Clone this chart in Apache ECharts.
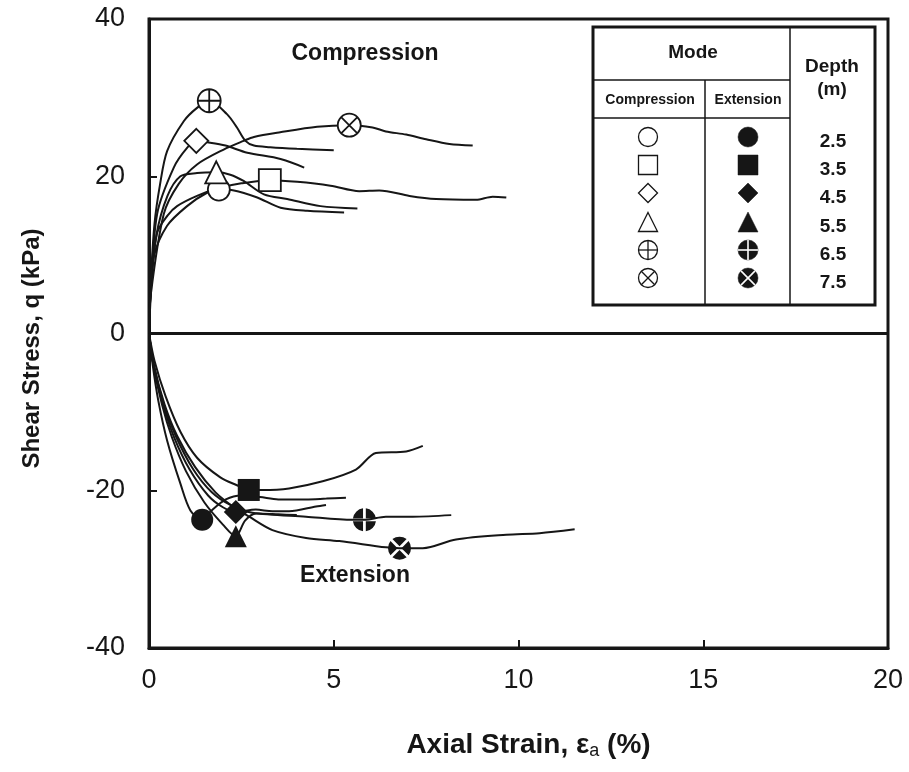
<!DOCTYPE html>
<html>
<head>
<meta charset="utf-8">
<title>Shear stress vs axial strain</title>
<script src="https://cdn.jsdelivr.net/npm/echarts@6/dist/echarts.min.js"></script>
<style>
  html, body { margin: 0; padding: 0; background: #fff; }
  #chart { width: 909px; height: 772px; }
</style>
</head>
<body>
<div id="chart"></div>
<script>
// depths (m) of the six tests, same order in every list below
var depths = ['2.5', '3.5', '4.5', '5.5', '6.5', '7.5']

// compression curves [axial strain %, q kPa]
var comp25 = [[0, 0], [0.05, 5], [0.13, 9.8], [0.49, 13.7], [1.03, 16.2], [1.57, 17.9], [1.89, 18.3], [2.3, 18.2], [2.93, 17.3], [3.56, 16.0], [4.28, 15.6], [5.28, 15.4]]
var comp35 = [[0, 0], [0.05, 6], [0.22, 12.8], [0.5, 15], [0.76, 16.2], [1.3, 17.5], [1.9, 18.5], [2.5, 19.1], [3.27, 19.5], [4.01, 19.3], [4.91, 18.8], [5.69, 18.1], [6.23, 18.2], [7.05, 17.5], [7.77, 17.1], [8.85, 17.0], [9.3, 17.4], [9.67, 17.3]]
var comp45 = [[0, 0], [0.04, 5], [0.22, 15.2], [0.67, 21.1], [1.03, 23.6], [1.28, 24.5], [1.62, 24.3], [2.07, 23.9], [2.66, 23.0], [3.56, 22.2], [4.2, 21.1]]
var comp55 = [[0, 0], [0.04, 5], [0.2, 12.5], [0.5, 17.5], [0.85, 20.0], [1.3, 20.4], [1.82, 20.5], [2.2, 20.2], [2.56, 19.4], [3.11, 17.7], [3.74, 17.1], [4.64, 16.2], [5.64, 15.9]]
var comp65 = [[0, 0], [0.04, 6], [0.15, 14], [0.3, 19], [0.49, 23.2], [0.94, 27], [1.3, 28.7], [1.63, 29.6], [2.11, 27.9], [2.38, 26.2], [2.61, 24.5], [2.84, 23.9], [3.28, 23.7], [4.0, 23.5], [5.0, 23.3]]
var comp75 = [[0, 0], [0.05, 5], [0.4, 15.2], [0.8, 19], [1.3, 21.5], [2.02, 23.4], [2.56, 24.5], [2.84, 25.0], [3.55, 25.6], [4.55, 26.3], [5.42, 26.5], [6.05, 26.2], [6.41, 25.7], [6.96, 25.3], [7.5, 24.7], [8.13, 24.1], [8.76, 23.9]]

// extension curves
var ext25 = [[0, 0], [0.1, -4], [0.25, -8.5], [0.49, -13.6], [0.85, -19.1], [1.12, -22.5], [1.44, -23.7], [1.67, -22.6], [2.08, -21.1], [2.5, -20.6], [3.0, -20.8], [3.5, -21.1], [4.25, -21.1], [4.8, -21.0], [5.33, -20.9]]
var ext35 = [[0, 0], [0.15, -3.5], [0.45, -8], [0.85, -12.5], [1.3, -15.8], [1.93, -18.3], [2.38, -19.3], [2.7, -19.9], [3.07, -19.9], [3.79, -19.7], [4.7, -18.8], [5.6, -17.3], [6.14, -15.2], [6.96, -15.0], [7.41, -14.3]]
var ext45 = [[0, 0], [0.12, -4], [0.38, -9], [0.68, -13.2], [1.1, -17.3], [1.6, -20.6], [2.0, -22.1], [2.35, -22.7], [2.89, -22.4], [3.34, -22.6], [3.79, -22.6], [4.52, -22.0], [4.79, -21.8]]
var ext55 = [[0, 0], [0.12, -4], [0.35, -9], [0.62, -13.2], [1.0, -17.5], [1.5, -21.5], [2.0, -24.3], [2.35, -25.8], [2.6, -23.8], [2.9, -22.9], [3.5, -23.0], [4.0, -23.1]]
var ext65 = [[0, 0], [0.13, -4], [0.4, -9], [0.72, -13], [1.2, -17.3], [1.7, -20.2], [2.2, -21.8], [2.8, -22.8], [4.25, -23.3], [5.51, -23.7], [5.83, -23.7], [6.41, -23.3], [7.14, -23.3], [8.18, -23.1]]
var ext75 = [[0, 0], [0.13, -4], [0.42, -9], [0.76, -13], [1.25, -17], [1.8, -20.2], [2.3, -22.1], [2.71, -23.3], [3.34, -25], [4.25, -26], [5.15, -26.4], [6.41, -27.2], [6.78, -27.3], [7.41, -27.3], [8.31, -26.2], [9.67, -25.6], [10.57, -25.4], [11.52, -24.9]]

// peak (failure) points that carry the markers
var compPeaks = [[1.89, 18.3], [3.27, 19.5], [1.28, 24.5], [1.82, 20.5], [1.63, 29.6], [5.42, 26.5]]
var extPeaks = [[1.44, -23.7], [2.7, -19.9], [2.35, -22.7], [2.35, -25.8], [5.83, -23.7], [6.78, -27.3]]

var compCurves = [comp25, comp35, comp45, comp55, comp65, comp75]
var extCurves = [ext25, ext35, ext45, ext55, ext65, ext75]

// marker shapes, drawn in a 20x20 box
var CIRCLE = 'M0,10A10,10 0 1,1 20,10A10,10 0 1,1 0,10Z'
var openSyms = [
  CIRCLE,
  'M0,0H20V20H0Z',
  'M10,0L20,10L10,20L0,10Z',
  'M10,0L20,20L0,20Z',
  CIRCLE + 'M10,0L10,20M0,10L20,10',
  CIRCLE + 'M2.93,2.93L17.07,17.07M17.07,2.93L2.93,17.07'
]
var solidSyms = [
  CIRCLE,
  'M0,0H20V20H0Z',
  'M10,0L20,10L10,20L0,10Z',
  'M10,0L20,20L0,20Z',
  // disc with a white plus cut out
  'M11.2,8.8L11.2,0.072A10,10 0 0,1 19.928,8.8Z' +
  'M11.2,11.2L19.928,11.2A10,10 0 0,1 11.2,19.928Z' +
  'M8.8,11.2L8.8,19.928A10,10 0 0,1 0.072,11.2Z' +
  'M8.8,8.8L0.072,8.8A10,10 0 0,1 8.8,0.072Z',
  // disc with a white cross cut out
  'M10,8.303L3.828,2.131A10,10 0 0,1 16.172,2.131Z' +
  'M11.697,10L17.869,3.828A10,10 0 0,1 17.869,16.172Z' +
  'M10,11.697L16.172,17.869A10,10 0 0,1 3.828,17.869Z' +
  'M8.303,10L2.131,16.172A10,10 0 0,1 2.131,3.828Z'
]
var symSizes = [22, 22, 24, 22, 23, 23]

var INK = '#161616'
var FONT = '"Liberation Sans", Arial, Helvetica, sans-serif'

var chart = echarts.init(document.getElementById('chart'))

var series = []
function curve(d) {
  return {
    type: 'line',
    data: d,
    showSymbol: false,
    smooth: 0.3,
    lineStyle: { color: INK, width: 2 },
    z: 2,
    silent: true
  }
}
compCurves.forEach(function(d) { series.push(curve(d)) })
extCurves.forEach(function(d) { series.push(curve(d)) })
// zero line across the plot
series[0].markLine = {
  silent: true,
  symbol: 'none',
  label: { show: false },
  lineStyle: { color: INK, width: 3, type: 'solid' },
  data: [{ yAxis: 0 }]
}
compPeaks.forEach(function(p, i) {
  series.push({
    type: 'scatter',
    data: [p],
    symbol: 'path://' + openSyms[i],
    symbolSize: symSizes[i],
    itemStyle: { color: '#fff', borderColor: INK, borderWidth: 1.8, opacity: 1 },
    z: 5,
    silent: true
  })
})
extPeaks.forEach(function(p, i) {
  series.push({
    type: 'scatter',
    data: [p],
    symbol: 'path://' + solidSyms[i],
    symbolSize: symSizes[i],
    itemStyle: { color: INK, borderWidth: 0, opacity: 1 },
    z: 5,
    silent: true
  })
})

// legend table in the upper right
var box = { x: 593, y: 27, w: 282, h: 278 }
var colMode = 790
var colSplit = 705
var rowHead = 80
var rowSub = 118
var rowYs = [137, 165, 193, 222, 250, 278]

function textEl(x, y, text, font) {
  return { type: 'text', x: x, y: y, z: 11, style: { text: text, font: font, fill: INK, align: 'center', verticalAlign: 'middle' } }
}
function lineEl(x1, y1, x2, y2, w, color) {
  return { type: 'line', z: 12, shape: { x1: x1, y1: y1, x2: x2, y2: y2 }, style: { stroke: color || INK, lineWidth: w } }
}
// legend glyph built from plain graphic primitives
function glyph(kind, cx, cy, s, solid) {
  var r = s / 2
  var st = solid ? { fill: INK, stroke: INK, lineWidth: 0.5 } : { fill: '#fff', stroke: INK, lineWidth: 1.3 }
  var out = []
  if (kind === 0 || kind >= 4) {
    out.push({ type: 'circle', z: 11, shape: { cx: cx, cy: cy, r: r }, style: st })
  } else if (kind === 1) {
    out.push({ type: 'rect', z: 11, shape: { x: cx - r, y: cy - r, width: s, height: s }, style: st })
  } else if (kind === 2) {
    out.push({ type: 'polygon', z: 11, shape: { points: [[cx, cy - r], [cx + r, cy], [cx, cy + r], [cx - r, cy]] }, style: st })
  } else {
    out.push({ type: 'polygon', z: 11, shape: { points: [[cx, cy - r], [cx + r, cy + r], [cx - r, cy + r]] }, style: st })
  }
  var lc = solid ? '#fff' : INK
  var lw = solid ? 1.6 : 1.3
  if (kind === 4) {
    out.push(lineEl(cx, cy - r, cx, cy + r, lw, lc))
    out.push(lineEl(cx - r, cy, cx + r, cy, lw, lc))
  } else if (kind === 5) {
    var k = r * 0.7071
    out.push(lineEl(cx - k, cy - k, cx + k, cy + k, lw, lc))
    out.push(lineEl(cx + k, cy - k, cx - k, cy + k, lw, lc))
  }
  return out
}

var graphics = [
  { type: 'rect', z: 10, shape: { x: box.x, y: box.y, width: box.w, height: box.h }, style: { fill: '#fff', stroke: INK, lineWidth: 3 } },
  lineEl(colMode, box.y, colMode, box.y + box.h, 1.5),
  lineEl(colSplit, rowHead, colSplit, box.y + box.h, 1.5),
  lineEl(box.x, rowHead, colMode, rowHead, 1.5),
  lineEl(box.x, rowSub, colMode, rowSub, 1.5),
  textEl(693, 53, 'Mode', 'bold 19px ' + FONT),
  textEl(832, 67, 'Depth', 'bold 19px ' + FONT),
  textEl(832, 90, '(m)', 'bold 19px ' + FONT),
  textEl(650, 100, 'Compression', 'bold 14px ' + FONT),
  textEl(748, 100, 'Extension', 'bold 14px ' + FONT),
  // plot annotations
  textEl(365, 54, 'Compression', 'bold 23px ' + FONT),
  textEl(355, 576, 'Extension', 'bold 23px ' + FONT)
]
depths.forEach(function(d, i) {
  var cy = rowYs[i]
  graphics = graphics.concat(glyph(i, 648, cy, 19, false))
  graphics = graphics.concat(glyph(i, 748, cy, 20, true))
  graphics.push(textEl(833, cy + 5, d, 'bold 19px ' + FONT))
})

chart.setOption({
  animation: false,
  backgroundColor: '#fff',
  grid: {
    left: 149,
    right: 21,
    top: 19,
    bottom: 124,
    show: true,
    borderColor: INK,
    borderWidth: 3,
    backgroundColor: 'transparent'
  },
  xAxis: {
    type: 'value',
    min: 0,
    max: 20,
    interval: 5,
    name: 'Axial Strain, ε{sub|a} (%)',
    nameLocation: 'middle',
    nameGap: 82,
    nameTextStyle: {
      fontFamily: FONT, fontSize: 28, fontWeight: 'bold', color: INK, padding: [0, 0, 0, 20],
      rich: { sub: { fontFamily: FONT, fontSize: 18, fontWeight: 'normal', color: INK, verticalAlign: 'bottom', padding: [12, 0, 0, 0] } }
    },
    axisLine: { onZero: false, lineStyle: { color: INK, width: 3 } },
    axisTick: { inside: true, length: 8, lineStyle: { color: INK, width: 2 } },
    axisLabel: { margin: 19, fontFamily: FONT, fontSize: 27, color: INK },
    splitLine: { show: false }
  },
  yAxis: {
    type: 'value',
    min: -40,
    max: 40,
    interval: 20,
    name: 'Shear Stress, q (kPa)',
    nameLocation: 'middle',
    nameRotate: 90,
    nameGap: 105,
    nameTextStyle: { fontFamily: FONT, fontSize: 24, fontWeight: 'bold', color: INK, padding: [0, 30, 0, 0] },
    axisLine: { lineStyle: { color: INK, width: 3 } },
    axisTick: { inside: true, length: 8, lineStyle: { color: INK, width: 2 } },
    axisLabel: { margin: 24, fontFamily: FONT, fontSize: 27, color: INK },
    splitLine: { show: false }
  },
  graphic: graphics,
  series: series
})
</script>
</body>
</html>
